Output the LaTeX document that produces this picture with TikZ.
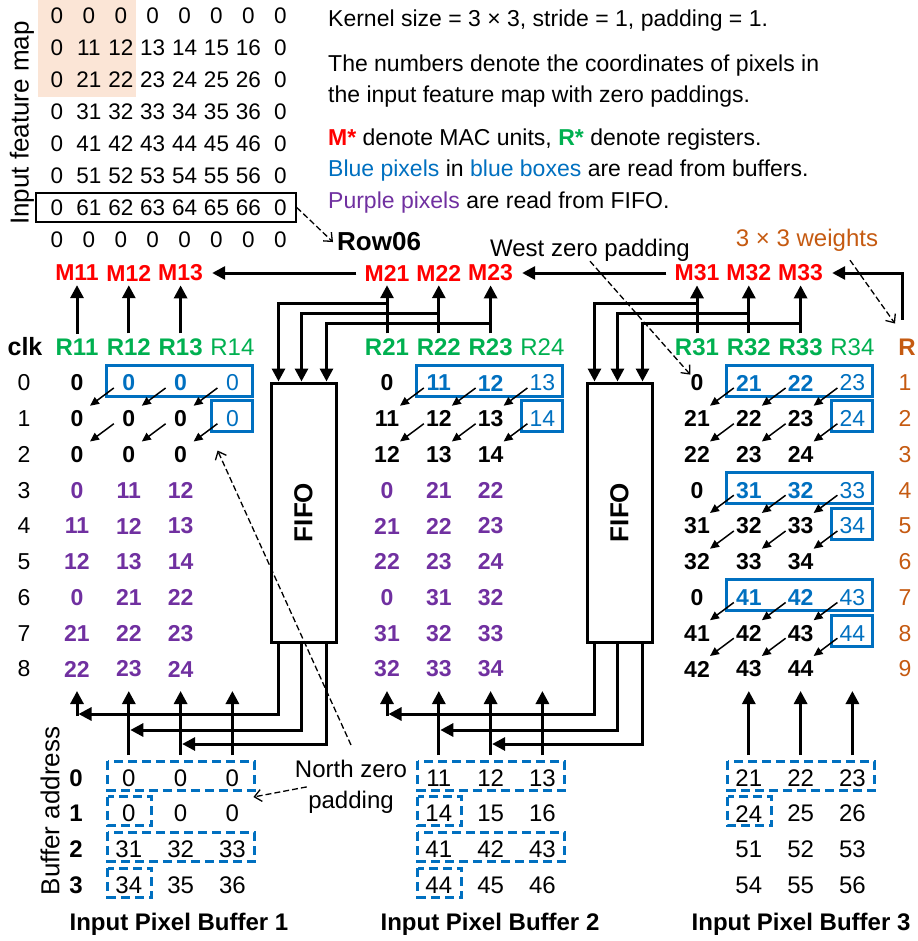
\documentclass[tikz,border=0pt]{standalone}
\usepackage{fontspec}
\setmainfont{Liberation Sans}
\usepackage{graphicx}
\usetikzlibrary{arrows.meta,positioning}

\definecolor{macred}{HTML}{FF0000}
\definecolor{reggreen}{HTML}{00B050}
\definecolor{bufblue}{HTML}{0070C0}
\definecolor{fifopurple}{HTML}{7030A0}
\definecolor{wtorange}{HTML}{C55A11}
\definecolor{peach}{HTML}{FBE5D6}
\newcommand\fsz[1]{\fontsize{#1}{#1}\selectfont}

\begin{document}
\begin{tikzpicture}[x=1pt, y=-1pt,
  lbl/.style={inner sep=0pt, font=\fsz{24}},
  note/.style={inner sep=0pt, font=\fsz{23}, anchor=base west},
  num/.style={inner sep=0pt, font=\fsz{22.5}},
  blk/.style={inner sep=0pt, font=\fsz{23}\bfseries},
  pur/.style={blk, text=fifopurple},
  blub/.style={blk, text=bufblue},
  blun/.style={num, font=\fsz{23}, text=bufblue},
  mac/.style={inner sep=0pt, font=\fsz{23}\bfseries, text=macred},
  reg/.style={inner sep=0pt, font=\fsz{24}\bfseries, text=reggreen},
  regn/.style={inner sep=0pt, font=\fsz{24}, text=reggreen},
  wt/.style={inner sep=0pt, font=\fsz{24}, text=wtorange},
  cellbox/.style={draw=bufblue, line width=3pt},
  bufbox/.style={draw=bufblue, line width=3pt, dash pattern=on 9pt off 5pt},
  fifobox/.style={draw, line width=3pt, minimum width=65pt, minimum height=259pt,
    inner sep=0pt, font=\fsz{26}\bfseries},
  bigarrow/.style={line width=3pt, -{Triangle[length=13pt,width=13pt]}},
  smallarrow/.style={line width=1.5pt, -{Triangle[length=9pt,width=8pt]}},
  dasharrow/.style={line width=1.3pt, dash pattern=on 6pt off 3pt,
    -{Straight Barb[length=7pt,width=12pt]}}
]
  \useasboundingbox (0,0) rectangle (917,941);

  % input feature map
  \fill[peach] (38,0) rectangle (136,97);
  \foreach \i in {0,...,7}{
    \foreach \j in {0,...,7}{
      \pgfmathtruncatemacro\val{(\i>0 && \i<7 && \j>0 && \j<7) ? 10*\i+\j : 0}
      \node[num] (fm-\i-\j) at ({57+31.9*\j},{16+32*\i}) {\val};
    }
  }
  \node[lbl, font=\fsz{26}, rotate=90] (fmlabel) at (22,123) {Input feature map};
  \node[draw, line width=1.5pt, minimum width=260pt, minimum height=29pt, inner sep=0pt]
    (row6box) at (166,207.5) {};
  \node[lbl, font=\fsz{26}\bfseries, anchor=base west] (row06) at (337,251) {Row06};

  % notes
  \node[note] (kernel)  at (328,27)  {Kernel size = 3 × 3, stride = 1, padding = 1.};
  \node[note] (coordA)  at (328,72)  {The numbers denote the coordinates of pixels in};
  \node[note] (coordB)  at (328,103) {the input feature map with zero paddings.};
  \node[note] (legendA) at (328,146) {\textcolor{macred}{\bfseries M*} denote MAC units,
    \textcolor{reggreen}{\bfseries R*} denote registers.};
  \node[note] (legendB) at (328,177) {\textcolor{bufblue}{Blue pixels} in
    \textcolor{bufblue}{blue boxes} are read from buffers.};
  \node[note] (legendC) at (328,208) {\textcolor{fifopurple}{Purple pixels} are read from FIFO.};

  % MAC units and registers
  \foreach \g in {1,2,3}{
    \foreach \c in {1,2,3}{
      \node[mac] (m-\g-\c) at ({77+310*(\g-1)+51.8*(\c-1)},273) {M\g\c};
      \node[reg] (r-\g-\c) at ({77+310*(\g-1)+51.8*(\c-1)},347) {R\g\c};
    }
    \node[regn] (r-\g-4) at ({77+310*(\g-1)+155.4},347) {R\g4};
  }
  \node[lbl, font=\fsz{25}\bfseries] (clk) at (25,347) {clk};
  \node[wt, font=\fsz{24}\bfseries] (rw) at (907,347) {R};
  \foreach \row in {0,...,8}{
    \pgfmathtruncatemacro\val{\row+1}
    \node[lbl, font=\fsz{23}] (t-\row) at (24,{383+35.75*\row}) {\row};
    \node[wt, font=\fsz{23}] (w-\row) at (905,{383+35.75*\row}) {\val};
  }
  \node[wt, anchor=base] (weights) at (807,247) {3 × 3 weights};
  \node[lbl, anchor=base] (westpad) at (590,256) {West zero padding};

  % register contents per clock
  \foreach \g/\k/\base/\kd in {1/0/0/0, 1/1/10/1, 1/2/20/1, 2/0/10/0, 2/1/20/1,
      2/2/30/1, 3/0/20/0, 3/1/30/0, 3/2/40/0}{
    \foreach \ii in {0,1,2}{
      \foreach \c in {1,2,3}{
        \pgfmathtruncatemacro\row{3*\k+\ii}
        \pgfmathtruncatemacro\val{(\base==0 || (\ii==0 && \c==1)) ? 0 : \base+\ii+\c-1}
        \ifnum\kd=1 \def\sty{pur}\else\def\sty{blk}\ifnum\ii=0 \ifnum\c>1 \def\sty{blub}\fi\fi\fi
        \node[\sty] (d-\g-\row-\c) at ({77+310*(\g-1)+51.8*(\c-1)},{383+35.75*\row}) {\val};
      }
    }
  }
  \foreach \g/\k/\base in {1/0/0, 2/0/10, 3/0/20, 3/1/30, 3/2/40}{
    \foreach \ii in {0,1}{
      \pgfmathtruncatemacro\row{3*\k+\ii}
      \pgfmathtruncatemacro\val{\base==0 ? 0 : \base+\ii+3}
      \node[blun] (d-\g-\row-4) at ({77+310*(\g-1)+155.4},{383+35.75*\row}) {\val};
    }
    \pgfmathtruncatemacro\row{3*\k}
    \pgfmathtruncatemacro\rn{3*\k+1}
    \draw[cellbox] ([shift={(-22pt,18pt)}]d-\g-\row-2.center) rectangle
      ([shift={(20pt,-13pt)}]d-\g-\row-4.center);
    \draw[cellbox] ([shift={(-21pt,18pt)}]d-\g-\rn-4.center) rectangle
      ([shift={(20pt,-13pt)}]d-\g-\rn-4.center);
  }
  \foreach \g/\rr in {1/0,1/1,2/0,2/1,3/0,3/1,3/3,3/4,3/6,3/7}{
    \foreach \c/\cn in {1/2,2/3,3/4}{
      \pgfmathtruncatemacro\rn{\rr+1}
      \draw[smallarrow] ([shift={(-15pt,-5pt)}]d-\g-\rr-\cn.center) --
        ([shift={(13pt,13pt)}]d-\g-\rn-\c.center);
    }
  }

  % FIFOs
  \node[fifobox] (fifo1) at (303.5,512.5) {\rotatebox{90}{FIFO}};
  \node[fifobox] (fifo2) at (619.5,512.5) {\rotatebox{90}{FIFO}};

  % input pixel buffers
  \foreach \g in {1,2,3}{
    \foreach \rr in {0,...,3}{
      \foreach \c in {1,2,3}{
        \pgfmathtruncatemacro\mrow{\rr<2 ? \g-1 : \g+2}
        \pgfmathtruncatemacro\val{\mrow==0 ? 0 : 10*\mrow+3*mod(\rr,2)+\c}
        \node[lbl, font=\fsz{24}] (b-\g-\rr-\c) at ({77+310*(\g-1)+51.8*\c},{778+35.7*\rr}) {\val};
      }
    }
    \node[lbl, font=\fsz{24}\bfseries, anchor=base] (cap-\g) at ({179+311*(\g-1)},930)
      {Input Pixel Buffer \g};
    \foreach \c in {1,...,4}
      \coordinate (in-\g-\c) at ({77+310*(\g-1)+51.8*(\c-1)},691);
  }
  \foreach \rr in {0,...,3}
    \node[lbl, font=\fsz{24}\bfseries] (ba-\rr) at (76,{778+35.7*\rr}) {\rr};
  \node[lbl, font=\fsz{26}, rotate=90] (baddr) at (50,811) {Buffer address};
  \foreach \g/\rr in {1/0,1/2,2/0,2/2,3/0}
    \draw[bufbox] ([shift={(-21pt,17pt)}]b-\g-\rr-1.center) rectangle
      ([shift={(22pt,-12pt)}]b-\g-\rr-3.center);
  \foreach \g/\rr in {1/1,1/3,2/1,2/3,3/1}
    \draw[bufbox] ([shift={(-21pt,17pt)}]b-\g-\rr-1.center) rectangle
      ([shift={(23pt,-12pt)}]b-\g-\rr-1.center);
  \node[inner sep=0pt, anchor=north, align=center, font=\fontsize{24}{31}\selectfont]
    (northpad) at (351,760) {North zero\\padding};

  % data paths
  \foreach \g in {1,2,3}{
    \foreach \c in {1,2,3}
      \draw[bigarrow, shorten >=4pt] ([yshift=5pt]r-\g-\c.north) -- (m-\g-\c.south);
    \foreach \c/\cn in {1/2,2/3,3/4}
      \draw[bigarrow] ([yshift=23pt]b-\g-0-\c.center) -- (in-\g-\cn);
  }
  \draw[bigarrow, shorten <=8pt, shorten >=9pt] (m-2-1.west) -- (m-1-3.east);
  \draw[bigarrow, shorten <=8pt, shorten >=9pt] (m-3-1.west) -- (m-2-3.east);
  \draw[bigarrow, shorten >=9pt] ([shift={(-5pt,19pt)}]rw.north) |- (m-3-3.east);
  \foreach \g/\gn in {1/2,2/3}{
    \foreach \c/\off/\yy in {1/9pt/303,2/32pt/313,3/57pt/323}
      \draw[bigarrow] (m-\gn-\c |- 0,\yy) -| ([xshift=\off]fifo\g.north west);
    \foreach \c/\off/\yy in {1/9pt/714,2/32pt/730,3/57pt/744}
      \draw[bigarrow, shorten >=1.5pt] ([xshift=\off]fifo\g.south west) |- (in-\g-\c |- 0,\yy);
    \draw[bigarrow] ([yshift=-25pt]in-\g-1) -- (in-\g-1);
  }

  % annotations
  \draw[dasharrow] (row6box.east) -- ([xshift=-4pt]row06.west);
  \draw[dasharrow] (westpad.south) -- (d-3-0-1.north west);
  \draw[dasharrow] ([shift={(43pt,-8pt)}]weights.south) -- ([shift={(-12pt,15pt)}]rw.north);
  \draw[dasharrow] ([xshift=12pt]northpad.west) -- ([shift={(21pt,-19pt)}]b-1-0-3.center);
  \draw[dasharrow] ([yshift=15pt]northpad.north) -- ([shift={(37pt,4pt)}]d-1-2-3.center);
\end{tikzpicture}
\end{document}
